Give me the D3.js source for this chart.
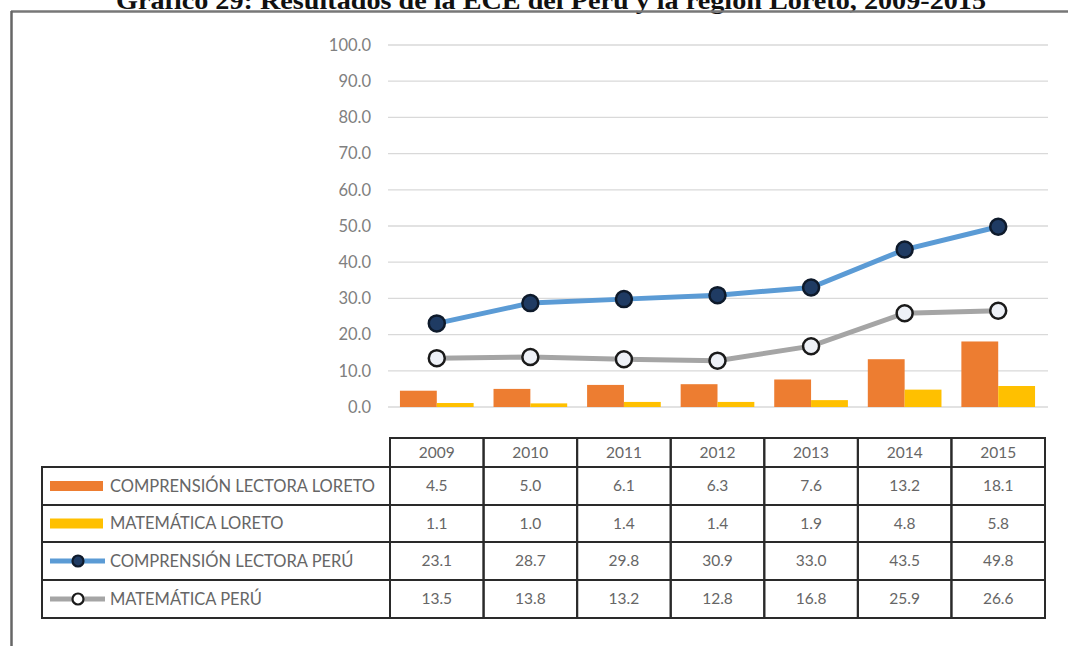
<!DOCTYPE html>
<html><head><meta charset="utf-8">
<script src="https://cdn.jsdelivr.net/npm/d3@7"></script>
<style>body{margin:0;background:#fff}svg{display:block}</style>
</head><body><svg id="c" width="1068" height="646"></svg>
<script>
const title = "Gráfico 29: Resultados de la ECE del Perú y la región Loreto, 2009-2015";
const years = ["2009","2010","2011","2012","2013","2014","2015"];
const seriesNames = ["COMPRENSIÓN LECTORA LORETO","MATEMÁTICA LORETO","COMPRENSIÓN LECTORA PERÚ","MATEMÁTICA PERÚ"];
const clLoreto = [4.5,5.0,6.1,6.3,7.6,13.2,18.1];
const matLoreto = [1.1,1.0,1.4,1.4,1.9,4.8,5.8];
const clPeru = [23.1,28.7,29.8,30.9,33.0,43.5,49.8];
const matPeru = [13.5,13.8,13.2,12.8,16.8,25.9,26.6];
const yTicks = [0,10,20,30,40,50,60,70,80,90,100];

const svg = d3.select("#c");
const font = "Lato, 'Open Sans', sans-serif";
const colors = {clL:"#ed7d31", mL:"#ffc000", clP:"#5b9bd5", mP:"#a5a5a5"};

// title (cropped at top, as in the source)
svg.append("text").attr("x",551).attr("y",9).attr("text-anchor","middle")
  .attr("font-family","'Liberation Serif', serif").attr("font-weight","bold")
  .attr("font-size",26).attr("fill","#111")
  .attr("textLength",870).attr("lengthAdjust","spacingAndGlyphs").text(title);

// outer frame
svg.append("line").attr("x1",11).attr("x2",1068).attr("y1",11.5).attr("y2",11.5).attr("stroke","#777").attr("stroke-width",2.5);
svg.append("line").attr("x1",11.5).attr("x2",11.5).attr("y1",11).attr("y2",646).attr("stroke","#666").attr("stroke-width",2.5);

const x = d3.scaleBand().domain(years).range([390,1045]);
const xb = d3.scaleBand().domain(["a","b"]).range([0,x.bandwidth()]).paddingOuter(0.27).paddingInner(0);
const y = d3.scaleLinear().domain([0,100]).range([407,45]);

// grid
svg.append("g").selectAll("line").data(yTicks).join("line")
  .attr("x1",388).attr("x2",1048).attr("y1",d=>y(d)).attr("y2",d=>y(d))
  .attr("stroke","#d9d9d9").attr("stroke-width",1.3);

// y axis labels
const yAxis = d3.axisLeft(y).tickValues(yTicks).tickFormat(d3.format(".1f")).tickSize(0).tickPadding(0);
const ga = svg.append("g").attr("transform","translate(371,0)").call(yAxis);
ga.select(".domain").remove();
ga.selectAll("text").attr("font-family",font).attr("font-size",16.5).attr("fill","#808080");

// bars
svg.append("g").selectAll("rect").data(clLoreto).join("rect")
  .attr("x",(d,i)=>x(years[i])+xb("a")).attr("width",xb.bandwidth())
  .attr("y",d=>y(d)).attr("height",d=>y(0)-y(d)).attr("fill",colors.clL);
svg.append("g").selectAll("rect").data(matLoreto).join("rect")
  .attr("x",(d,i)=>x(years[i])+xb("b")).attr("width",xb.bandwidth())
  .attr("y",d=>y(d)).attr("height",d=>y(0)-y(d)).attr("fill",colors.mL);

// lines
const cx = i => x(years[i]) + x.bandwidth()/2;
const line = d3.line().x((d,i)=>cx(i)).y(d=>y(d));
svg.append("path").datum(matPeru).attr("d",line).attr("fill","none").attr("stroke",colors.mP).attr("stroke-width",5);
svg.append("g").selectAll("circle").data(matPeru).join("circle")
  .attr("cx",(d,i)=>cx(i)).attr("cy",d=>y(d)).attr("r",8)
  .attr("fill","#eef1f7").attr("stroke","#1a1a1a").attr("stroke-width",2.5);
svg.append("path").datum(clPeru).attr("d",line).attr("fill","none").attr("stroke",colors.clP).attr("stroke-width",5);
svg.append("g").selectAll("circle").data(clPeru).join("circle")
  .attr("cx",(d,i)=>cx(i)).attr("cy",d=>y(d)).attr("r",8)
  .attr("fill","#1f3b63").attr("stroke","#0e1a2b").attr("stroke-width",2.5);

// data table
const rowTop = [467,505,542,580];
const rowBot = [505,542,580,618];
const tbl = svg.append("g");
const tcol = "#666666";
const bcol = "#2a2a2a";
years.forEach(yr=>{
  tbl.append("rect").attr("x",x(yr)).attr("y",438).attr("width",x.bandwidth()).attr("height",29)
    .attr("fill","none").attr("stroke",bcol).attr("stroke-width",2);
  tbl.append("text").attr("x",x(yr)+x.bandwidth()/2).attr("y",452.5).attr("dy","0.35em")
    .attr("text-anchor","middle").attr("font-family",font).attr("font-size",15.5).attr("fill",tcol).text(yr);
});
const allData = [clLoreto, matLoreto, clPeru, matPeru];
allData.forEach((vals,r)=>{
  tbl.append("rect").attr("x",42).attr("y",rowTop[r]).attr("width",390-42).attr("height",rowBot[r]-rowTop[r])
    .attr("fill","none").attr("stroke",bcol).attr("stroke-width",2);
  vals.forEach((v,i)=>{
    tbl.append("rect").attr("x",x(years[i])).attr("y",rowTop[r]).attr("width",x.bandwidth()).attr("height",rowBot[r]-rowTop[r])
      .attr("fill","none").attr("stroke",bcol).attr("stroke-width",2);
    tbl.append("text").attr("x",x(years[i])+x.bandwidth()/2).attr("y",(rowTop[r]+rowBot[r])/2).attr("dy","0.35em")
      .attr("text-anchor","middle").attr("font-family",font).attr("font-size",15.5).attr("fill",tcol).text(v.toFixed(1));
  });
  const cy = (rowTop[r]+rowBot[r])/2;
  if (r<2) {
    tbl.append("rect").attr("x",50).attr("y",cy-5).attr("width",53).attr("height",10).attr("fill",r===0?colors.clL:colors.mL);
  } else {
    const lc = r===2?colors.clP:colors.mP;
    tbl.append("line").attr("x1",50).attr("x2",105).attr("y1",cy).attr("y2",cy).attr("stroke",lc).attr("stroke-width",5);
    tbl.append("circle").attr("cx",78).attr("cy",cy).attr("r",5.5)
      .attr("fill",r===2?"#1f3b63":"#ffffff").attr("stroke",r===2?"#0e1a2b":"#1a1a1a").attr("stroke-width",2.2);
  }
  tbl.append("text").attr("x",110).attr("y",cy).attr("dy","0.35em")
    .attr("font-family",font).attr("font-size",16.5).attr("fill",tcol).text(seriesNames[r]);
});
</script></body></html>
